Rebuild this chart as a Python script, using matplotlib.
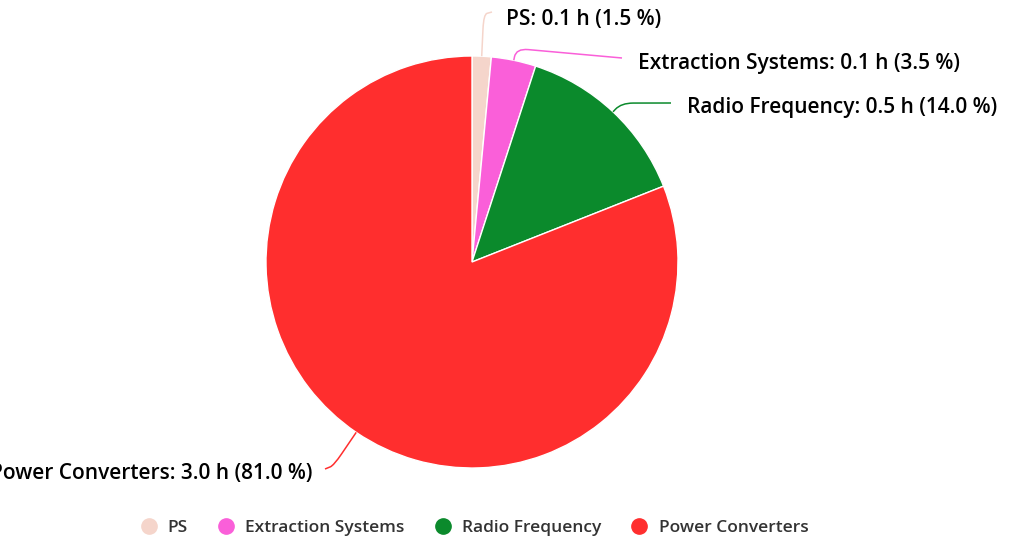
import numpy as np
import matplotlib.pyplot as plt
from matplotlib.path import Path
from matplotlib.patches import PathPatch

# data
categories = ["PS", "Extraction Systems", "Radio Frequency", "Power Converters"]
percent = [1.5, 3.5, 14.0, 81.0]
hour_labels = ["0.1", "0.1", "0.5", "3.0"]
colors = ["#f5d5cb", "#fa5fd9", "#0b8a2c", "#ff2e2e"]

# layout (pixels)
W, H = 1017, 537
center = (472, 262)
radius = 206
label_pos = [(506, 19), (638, 64), (687, 108), (312, 473)]
elbow_dist = [42, 12, 12, 40]
conn_end = [(492, 12), (622, 58), (671, 103), (325, 469)]

plt.rcParams['font.family'] = ['Open Sans', 'DejaVu Sans']

fig = plt.figure(figsize=(W / 100, H / 100), dpi=100)
ax = fig.add_axes([0, 0, 1, 1])

wedges, _ = ax.pie(percent, colors=colors, center=center, radius=radius,
                   startangle=-90, counterclock=True,
                   wedgeprops=dict(edgecolor="white", linewidth=1))
ax.set_xlim(0, W)
ax.set_ylim(H, 0)
ax.set_aspect("auto")
ax.axis("off")

for w, cat, hl, pct, col, (lx, ly), d, (cx, cy) in zip(
        wedges, categories, hour_labels, percent, colors,
        label_pos, elbow_dist, conn_end):
    mid = np.deg2rad((w.theta1 + w.theta2) / 2)
    ux, uy = np.cos(mid), np.sin(mid)
    a = np.array([center[0] + radius * ux, center[1] + radius * uy])
    b = a + d * np.array([ux, uy])
    c = np.array([cx, cy])
    # rounded corner at the elbow
    p1 = b - 0.35 * (b - a) if d > 20 else a + 0.3 * (b - a)
    p2 = b + min(12, 0.4 * np.linalg.norm(c - b)) * (c - b) / np.linalg.norm(c - b)
    verts = [a, p1, b, p2, c]
    codes = [Path.MOVETO, Path.LINETO, Path.CURVE3, Path.CURVE3, Path.LINETO]
    ax.add_patch(PathPatch(Path(verts, codes), facecolor="none",
                           edgecolor=col, linewidth=1.1))
    right = lx > center[0]
    ax.text(lx, ly, f"{cat}: {hl} h ({pct:.1f} %)",
            ha="left" if right else "right", va="center",
            fontsize=15, fontweight="semibold", color="black")

handles = [plt.Line2D([], [], marker="o", linestyle="", markersize=11,
                      markerfacecolor=c, markeredgecolor=c) for c in colors]
fig.legend(handles, categories, loc="center", ncol=4, frameon=False,
           bbox_to_anchor=(475 / W, 1 - 528 / H), handlelength=0.8,
           handletextpad=0.7, columnspacing=1.8,
           prop=dict(size=12.5, weight="semibold"), labelcolor="#333333")

fig.savefig("out.png", dpi=100)
